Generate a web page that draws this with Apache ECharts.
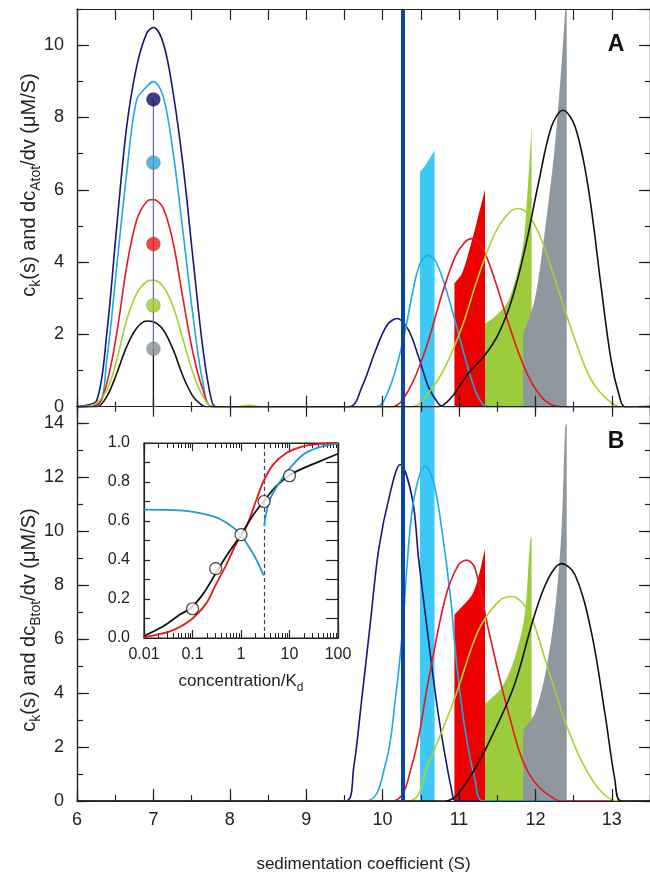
<!DOCTYPE html>
<html><head><meta charset="utf-8">
<script src="https://cdn.jsdelivr.net/npm/echarts@6/dist/echarts.min.js"></script>
<style>html,body{margin:0;padding:0;background:#fff}#c{width:650px;height:874px}</style>
</head><body><div id="c"></div>
<script>
// ================= DATA =================
// Panel A: c_k(s) and dc_Atot/dv  [s (S), value (uM/S)]
const navyA = [[6.0,0],[6.08,0.02],[6.26,0.18],[6.39,2.03],[6.52,4.98],[6.65,7.74],[6.78,9.4],[6.91,10.32],[7.0,10.49],[7.13,10.05],[7.26,8.66],[7.39,6.64],[7.52,4.06],[7.65,1.57],[7.76,0.18],[7.82,0],[9.56,0],[9.73,0.55],[9.91,1.57],[10.06,2.26],[10.19,2.44],[10.34,2.12],[10.47,1.38],[10.6,0.55],[10.73,0.09],[10.8,0],[13.5,0]];
const cyanA = [[6.0,0],[6.28,0.09],[6.39,1.29],[6.52,3.87],[6.65,6.45],[6.78,8.48],[6.91,8.85],[7.0,8.99],[7.13,8.57],[7.26,7.0],[7.39,4.79],[7.52,2.49],[7.65,0.65],[7.78,0],[9.91,0],[10.08,0.46],[10.26,1.75],[10.39,3.13],[10.49,3.96],[10.6,4.19],[10.71,3.96],[10.86,3.04],[11.04,1.66],[11.21,0.46],[11.32,0.05],[11.4,0],[13.5,0]];
const redA = [[6.0,0],[6.26,0.05],[6.39,0.65],[6.52,2.03],[6.65,3.87],[6.78,5.16],[6.91,5.67],[7.0,5.73],[7.13,5.48],[7.26,4.52],[7.39,2.95],[7.52,1.47],[7.65,0.46],[7.78,0],[10.12,0],[10.34,0.46],[10.56,1.57],[10.78,3.13],[10.95,4.15],[11.08,4.56],[11.17,4.65],[11.3,4.42],[11.47,3.5],[11.69,2.03],[11.91,0.83],[12.12,0.18],[12.34,0],[13.5,0]];
const greenA = [[6.0,0],[6.21,0.05],[6.39,0.46],[6.52,1.29],[6.65,2.4],[6.78,3.13],[6.91,3.46],[7.0,3.5],[7.13,3.32],[7.26,2.76],[7.39,1.84],[7.52,0.92],[7.65,0.28],[7.78,0],[8.1,0],[8.25,0.04],[8.4,0],[10.39,0],[10.6,0.37],[10.82,1.11],[11.04,2.21],[11.25,3.59],[11.47,4.79],[11.65,5.35],[11.78,5.48],[11.91,5.3],[12.08,4.61],[12.3,3.23],[12.52,1.84],[12.73,0.74],[12.95,0.18],[13.12,0],[13.5,0]];
const blackA = [[6.0,0],[6.26,0],[6.39,0.28],[6.52,0.92],[6.65,1.66],[6.78,2.17],[6.91,2.37],[7.0,2.35],[7.13,2.12],[7.26,1.57],[7.39,0.83],[7.52,0.28],[7.65,0.02],[7.69,0],[10.73,0],[10.91,0.28],[11.12,0.92],[11.34,1.43],[11.52,2.03],[11.69,2.95],[11.86,4.33],[12.04,6.18],[12.21,7.74],[12.36,8.2],[12.52,7.74],[12.69,6.08],[12.86,3.32],[12.99,1.29],[13.1,0.28],[13.17,0],[13.5,0]];
// Panel A: filled dc/dv distributions
const cyanFillA = [[10.49,6.5],[10.56,6.68],[10.67,7.05],[10.68,7.1]];
const redFillA = [[10.94,3.41],[11.04,3.69],[11.17,4.6],[11.25,5.25],[11.34,6.0]];
const greenFillA = [[11.34,2.3],[11.47,2.49],[11.65,2.95],[11.82,4.24],[11.88,5.35],[11.95,7.74]];
const grayFillA = [[11.84,2.0],[11.99,2.95],[12.12,4.8],[12.25,7.1],[12.34,9.4],[12.39,11.0],[12.41,12]];
// Panel A: loading concentrations at 7 S
const dotS = 7;
const dotValues = [8.5, 6.75, 4.5, 2.8, 1.6];
const dotColors = ['#0b0b5e', '#2aa4d8', '#ee1c1c', '#9ccc2c', '#8a9096'];

// Panel B: c_k(s) and dc_Btot/dv
const navyB = [[6,0],[9.52,0],[9.62,1.2],[9.73,3.85],[9.84,6.6],[9.95,9.34],[10.1,11.42],[10.23,12.46],[10.39,11.18],[10.47,9.0],[10.56,6.9],[10.73,3.2],[10.91,0.3],[10.96,0],[13.5,0]];
const cyanB = [[6,0],[9.78,0],[10.04,1.4],[10.17,3.85],[10.26,6.29],[10.32,8.73],[10.41,11.18],[10.56,12.4],[10.67,11.79],[10.78,9.95],[10.89,7.51],[10.97,5.07],[11.08,2.63],[11.21,0.79],[11.32,0],[13.5,0]];
const redB = [[6,0],[10.12,0],[10.39,1.4],[10.6,4.46],[10.82,7.51],[10.99,8.73],[11.1,8.92],[11.21,8.61],[11.39,6.29],[11.65,3.24],[11.91,1.04],[12.26,0.06],[12.4,0],[13.5,0]];
const greenB = [[6,0],[10.34,0],[10.6,1.4],[10.95,3.85],[11.25,6.29],[11.52,7.39],[11.69,7.57],[11.91,7.02],[12.12,5.31],[12.43,2.63],[12.77,0.67],[13.08,0],[13.5,0]];
const blackB = [[6,0],[10.82,0],[11.12,0.79],[11.47,2.63],[11.73,4.34],[11.99,6.9],[12.17,8.24],[12.34,8.79],[12.52,8.37],[12.73,6.29],[12.91,3.24],[13.04,0.79],[13.12,0],[13.5,0]];
const redFillB = [[10.94,6.9],[11.04,7.2],[11.17,7.63],[11.25,8.24],[11.34,9.34]];
const greenFillB = [[11.34,3.6],[11.56,4.2],[11.73,5.3],[11.86,6.9],[11.93,9.6],[11.95,9.8]];
const grayFillB = [[11.84,2.63],[11.99,3.24],[12.12,4.58],[12.25,6.9],[12.34,9.95],[12.39,13.86],[12.41,14]];
const cyanBand = [10.49, 10.68];
const blueLineS = 10.255;

// Inset: fraction vs concentration/Kd
const insetX = [0.01, 0.1, 1, 10, 100];
const insetXLabels = ['0.01', '0.1', '1', '10', '100'];
const circleC = [0.1, 0.3, 1, 3, 10];
const circleV = [0.15, 0.356, 0.53, 0.70, 0.832];
const blackC = [0.01,0.025,0.055,0.093,0.17,0.29,0.5,1,1.8,3,5.4,10,19,42,100];
const blackV = [0.01,0.06,0.12,0.154,0.23,0.325,0.42,0.53,0.632,0.704,0.78,0.835,0.87,0.906,0.945];
const redC = [0.01,0.034,0.093,0.195,0.29,0.5,0.81,1.3,2.08,2.86,4.6,8.65,19,42,100];
const redV = [0.005,0.034,0.094,0.18,0.265,0.376,0.487,0.573,0.709,0.80,0.889,0.949,0.983,0.995,1.0];
const blueLeftC = [0.01,0.055,0.27,0.59,0.98,1.52,2.09,2.95];
const blueLeftV = [0.658,0.655,0.624,0.58,0.53,0.46,0.40,0.32];
const blueRightC = [3.02,3.3,3.93,5.0,6.3,10.1,19,36,68,100];
const blueRightV = [0.573,0.64,0.709,0.76,0.80,0.87,0.94,0.974,0.99,0.995];
const dashedC = 3;

// ================= STYLE =================
const FONT = 'Liberation Sans';
const INK = '#222';
const C_NAVY = '#16167a', C_CYAN = '#1aaae6', C_RED = '#e8161e', C_GREEN = '#a6d12f', C_BLACK = '#111';

function axis(dim, grid, pos, min, max, interval, len, label, extra) {
  const a = {
    type: 'value', gridIndex: grid, position: pos, min: min, max: max, interval: interval, z: 6,
    axisLine: {show: true, onZero: false, lineStyle: {color: INK, width: 1.2}},
    axisTick: {show: true, inside: true, length: len, lineStyle: {color: INK, width: 1.2}},
    axisLabel: label ? Object.assign({show: true, color: INK, fontSize: 18, fontFamily: FONT, margin: 12, showMaxLabel: false}, label) : {show: false},
    splitLine: {show: false}
  };
  return Object.assign(a, extra || {});
}
function logAxis(pos, labels) {
  return {type: 'log', logBase: 10, gridIndex: 2, position: pos, min: 0.01, max: 100, z: 6,
   axisLine: {show: true, onZero: false, lineStyle: {color: INK, width: 1.2}},
   axisTick: {show: true, inside: true, length: 8, lineStyle: {color: INK, width: 1.2}},
   minorTick: {show: true, splitNumber: 9, length: 5, lineStyle: {color: INK, width: 1}},
   axisLabel: labels ? {show: true, color: INK, fontSize: 16, fontFamily: FONT, margin: 9,
     formatter: v => { const i = insetX.findIndex(t => Math.abs(Math.log10(t) - Math.log10(v)) < 1e-6); return i >= 0 ? insetXLabels[i] : ''; }} : {show: false},
   splitLine: {show: false}};
}

const xAxes = [
  axis('x', 0, 'bottom', 6, 13.5, 0.5, 5, null),          // 0 data axis A
  axis('x', 0, 'bottom', 6, 13.5, 1, 11, null),
  axis('x', 0, 'top', 6, 13.5, 0.5, 11, null),
  axis('x', 1, 'bottom', 6, 13.5, 0.5, 6, null),          // 3 data axis B
  axis('x', 1, 'bottom', 6, 13.5, 1, 12, {margin: 10}, {
    name: 'sedimentation coefficient (S)', nameLocation: 'middle', nameGap: 55,
    nameTextStyle: {fontSize: 17, fontFamily: FONT, color: INK}}),
  axis('x', 1, 'top', 6, 13.5, 0.5, 5, null),
  axis('x', 1, 'top', 6, 13.5, 1, 10, null),
  logAxis('bottom', true),                                  // 7 inset data axis
  logAxis('top', false)
];

const yAxes = [
  axis('y', 0, 'left', 0, 11, 1, 6, null),                 // 0 data axis A
  axis('y', 0, 'left', 0, 11, 2, 12, {margin: 13}),
  axis('y', 0, 'right', 0, 11, 1, 5, null),
  axis('y', 0, 'right', 0, 11, 2, 11, null),
  axis('y', 1, 'left', 0, 14.6, 1, 6, null),               // 4 data axis B
  axis('y', 1, 'left', 0, 14.6, 2, 12, {margin: 13}),
  axis('y', 1, 'right', 0, 14.6, 1, 5, null),
  axis('y', 1, 'right', 0, 14.6, 2, 11, null),
  axis('y', 2, 'left', 0, 1, 0.2, 6, {fontSize: 16, margin: 14, showMaxLabel: true, formatter: v => v.toFixed(1)},
       {minorTick: {show: true, splitNumber: 2, length: 6, lineStyle: {color: INK, width: 1.2}}}),   // 8 inset
  axis('y', 2, 'right', 0, 1, 0.1, 12, null)
];

function curve(name, data, color, xi, yi, z, w) {
  return {name, type: 'line', xAxisIndex: xi, yAxisIndex: yi, data, symbol: 'none', smooth: 0.35,
    lineStyle: {color, width: w || 1.6}, z: z || 4, silent: true, animation: false, clip: true};
}
function fill(name, data, color, xi, yi) {
  return {name, type: 'line', xAxisIndex: xi, yAxisIndex: yi, data, symbol: 'none', smooth: 0.3,
    lineStyle: {width: 0, color}, areaStyle: {color, opacity: 1}, z: 2, silent: true, animation: false, clip: true};
}
const zip = (a, b) => a.map((v, i) => [v, b[i]]);

const blueMark = (xi, yi) => ({type: 'line', xAxisIndex: xi, yAxisIndex: yi, data: [], z: 8, silent: true, animation: false,
  markLine: {silent: true, symbol: 'none', animation: false, label: {show: false},
    lineStyle: {color: '#0b45a8', width: 4, type: 'solid'}, data: [{xAxis: blueLineS}]}});

const series = [
  // ---- panel A ----
  fill('cyanFillA', cyanFillA, '#3dc9f5', 0, 0),
  fill('redFillA', redFillA, '#ee0000', 0, 0),
  fill('greenFillA', greenFillA, '#9ccb3b', 0, 0),
  fill('grayFillA', grayFillA, '#8f989f', 0, 0),
  curve('navyA', navyA, C_NAVY, 0, 0),
  curve('cyanA', cyanA, C_CYAN, 0, 0),
  curve('redA', redA, C_RED, 0, 0),
  curve('greenA', greenA, C_GREEN, 0, 0),
  curve('blackA', blackA, C_BLACK, 0, 0),
  {type: 'line', xAxisIndex: 0, yAxisIndex: 0, data: [[dotS, 0], [dotS, Math.min.apply(null, dotValues)]], symbol: 'none',
   lineStyle: {color: '#111', width: 1.3}, z: 5, animation: false, silent: true},
  {type: 'line', xAxisIndex: 0, yAxisIndex: 0, data: [[dotS, Math.min.apply(null, dotValues)], [dotS, Math.max.apply(null, dotValues)]], symbol: 'none',
   lineStyle: {color: '#6a6a9c', width: 1.2}, z: 5, animation: false, silent: true},
  {type: 'scatter', xAxisIndex: 0, yAxisIndex: 0, symbolSize: 14, z: 7, animation: false, silent: true,
   data: dotValues.map((v, i) => ({value: [dotS, v], itemStyle: {color: dotColors[i], borderColor: 'rgba(0,0,0,0.2)', borderWidth: 1}}))},
  blueMark(0, 0),
  // ---- panel B ----
  {type: 'line', xAxisIndex: 3, yAxisIndex: 4, data: [], z: 1, silent: true, animation: false,
   markArea: {silent: true, itemStyle: {color: '#3dc9f5', opacity: 1}, data: [[{xAxis: cyanBand[0]}, {xAxis: cyanBand[1]}]]}},
  fill('redFillB', redFillB, '#ee0000', 3, 4),
  fill('greenFillB', greenFillB, '#9ccb3b', 3, 4),
  fill('grayFillB', grayFillB, '#8f989f', 3, 4),
  curve('navyB', navyB, C_NAVY, 3, 4),
  curve('cyanB', cyanB, C_CYAN, 3, 4),
  curve('redB', redB, C_RED, 3, 4),
  curve('greenB', greenB, C_GREEN, 3, 4),
  curve('blackB', blackB, C_BLACK, 3, 4),
  blueMark(3, 4),
  // ---- inset ----
  Object.assign(curve('insetRed', zip(redC, redV), '#e8161e', 7, 8, 6, 1.8), {smooth: 0.3}),
  Object.assign(curve('insetBlack', zip(blackC, blackV), '#111', 7, 8, 6, 1.8), {smooth: 0.3}),
  Object.assign(curve('insetBlueL', zip(blueLeftC, blueLeftV), '#1e9ad6', 7, 8, 6, 1.8), {smooth: 0.3}),
  Object.assign(curve('insetBlueR', zip(blueRightC, blueRightV), '#1e9ad6', 7, 8, 6, 1.8), {smooth: 0.3,
    markLine: {silent: true, symbol: 'none', animation: false, label: {show: false},
      lineStyle: {color: '#444', width: 1.2, type: [4, 3]}, data: [{xAxis: dashedC}]}}),
  {type: 'scatter', xAxisIndex: 7, yAxisIndex: 8, symbol: 'circle', symbolSize: 12, z: 8, animation: false, silent: true,
   itemStyle: {color: '#fff', borderColor: '#111', borderWidth: 1.2}, data: zip(circleC, circleV)}
];

const chart = echarts.init(document.getElementById('c'), null, {renderer: 'canvas'});
chart.setOption({
  backgroundColor: '#fff',
  animation: false,
  textStyle: {fontFamily: FONT},
  grid: [
    {left: 77, top: 9, width: 573, height: 397.7},
    {left: 77, top: 406.7, width: 573, height: 398.3},
    {left: 144, top: 443, width: 194, height: 195, show: true, backgroundColor: '#fff', borderColor: INK, borderWidth: 1.2}
  ],
  xAxis: xAxes,
  yAxis: yAxes,
  series: series,
  graphic: [
    {type: 'text', x: 29, y: 185, rotation: Math.PI / 2, silent: true,
     style: {text: '{m|c}{s|k}{m|(s) and dc}{s|Atot}{m|/dv (\u03bcM/S)}', align: 'center', verticalAlign: 'middle', fill: INK,
       rich: {m: {fontSize: 20, fontFamily: FONT, fill: INK, lineHeight: 29}, s: {fontSize: 14, fontFamily: FONT, fill: INK, verticalAlign: 'bottom', lineHeight: 29}}}},
    {type: 'text', x: 29, y: 620, rotation: Math.PI / 2, silent: true,
     style: {text: '{m|c}{s|k}{m|(s) and dc}{s|Btot}{m|/dv (\u03bcM/S)}', align: 'center', verticalAlign: 'middle', fill: INK,
       rich: {m: {fontSize: 20, fontFamily: FONT, fill: INK, lineHeight: 29}, s: {fontSize: 14, fontFamily: FONT, fill: INK, verticalAlign: 'bottom', lineHeight: 29}}}},
    {type: 'text', x: 241, y: 681, silent: true,
     style: {text: '{m|concentration/K}{s|d}', align: 'center', verticalAlign: 'middle', fill: INK,
       rich: {m: {fontSize: 17, fontFamily: FONT, fill: INK, lineHeight: 26}, s: {fontSize: 12, fontFamily: FONT, fill: INK, verticalAlign: 'bottom', lineHeight: 26}}}},
    {type: 'text', x: 616, y: 45, silent: true, style: {text: 'A', font: 'bold 23px ' + FONT, fill: '#111', align: 'center', verticalAlign: 'middle'}},
    {type: 'text', x: 616, y: 442, silent: true, style: {text: 'B', font: 'bold 23px ' + FONT, fill: '#111', align: 'center', verticalAlign: 'middle'}}
  ]
});
</script></body></html>
